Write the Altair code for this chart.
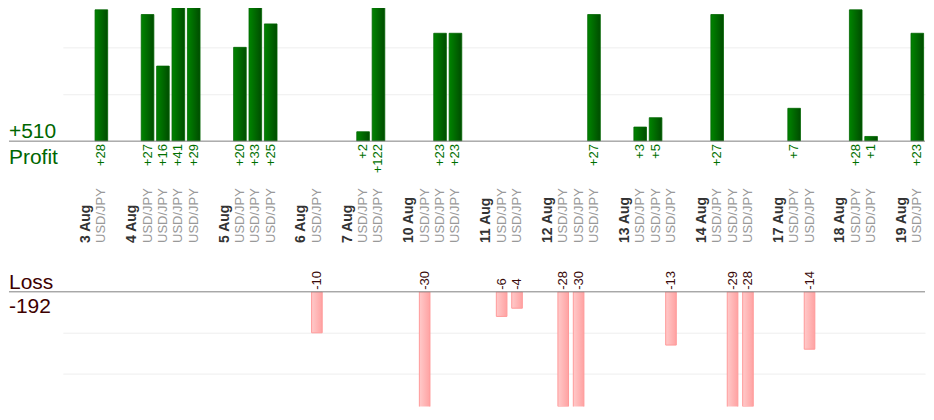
import altair as alt
import pandas as pd

# ---- data ----
days = ["3 Aug", "4 Aug", "5 Aug", "6 Aug", "7 Aug", "10 Aug", "11 Aug",
        "12 Aug", "13 Aug", "14 Aug", "17 Aug", "18 Aug", "19 Aug"]
pair = "USD/JPY"
day_results = [
    [28],
    [27, 16, 41, 29],
    [20, 33, 25],
    [-10],
    [2, 122],
    [-30, 23, 23],
    [-6, -4],
    [-28, -30, 27],
    [3, 5, -13],
    [27, -29, -28],
    [7, -14],
    [28, 1],
    [23],
]
profit_grid = [10, 20, 30]
loss_grid = [10, 20]

# ---- build tables ----
day_rows, trade_rows = [], []
slot = 0
for d, res in zip(days, day_results):
    slot += 1  # empty gap slot before every day
    day_rows.append({"slot": slot, "day": d})
    slot += 1
    for r in res:
        trade_rows.append({"slot": slot, "pair": pair, "result": r})
        slot += 1
n_slots = slot

day_df = pd.DataFrame(day_rows)
trade_df = pd.DataFrame(trade_rows)
profit_df = trade_df[trade_df.result > 0].copy()
profit_df["txt"] = "+" + profit_df.result.astype(str)
loss_df = trade_df[trade_df.result < 0].copy()
loss_df["loss"] = -loss_df.result
loss_df["txt"] = loss_df.result.astype(str)

total_profit = int(profit_df.result.sum())
total_loss = int(loss_df.loss.sum())
profit_lbl = pd.DataFrame({"t": ["+%d" % total_profit, "Profit"], "yy": [138, 164]})
loss_lbl = pd.DataFrame({"t": ["Loss", "-%d" % total_loss], "yy": [-3, 21]})
zero_df = pd.DataFrame({"v": [0]})

FONT = "Liberation Sans"
W = 864
LEFT = -54
xscale = alt.Scale(domain=list(range(n_slots)), paddingInner=0.18, paddingOuter=0.09)
X = alt.X("slot:O", scale=xscale, axis=None)

# ---- profit panel ----
py = alt.Y("result:Q", scale=alt.Scale(domain=[0, 30]),
           axis=alt.Axis(values=profit_grid, grid=True, gridColor="#eeeeee",
                         labels=False, ticks=False, domain=False, title=None))
green = alt.Gradient(gradient="linear", x1=0, x2=1, y1=0, y2=0,
                     stops=[alt.GradientStop(color="#008400", offset=0),
                            alt.GradientStop(color="#004c00", offset=1)])
p_bars = alt.Chart(profit_df).mark_bar(clip=True, color=green, stroke="#006400",
                                       strokeWidth=0.8).encode(x=X, y=py)
p_text = alt.Chart(profit_df).mark_text(angle=270, align="right", baseline="middle",
                                        dx=-3, fontSize=13, font=FONT,
                                        color="#007000").encode(
    x=X, y=alt.datum(0), text="txt:N")
p_rule = alt.Chart(zero_df).mark_rule(color="#808080", strokeWidth=1).encode(
    y=alt.Y("v:Q"), x=alt.value(LEFT), x2=alt.value(W))
p_lbl = alt.Chart(profit_lbl).mark_text(align="left", baseline="alphabetic",
                                         fontSize=21, font=FONT, color="#006600").encode(
    x=alt.value(LEFT), y=alt.Y("yy:Q", scale=None), text="t:N")
profit = alt.layer(p_bars, p_rule, p_text, p_lbl).properties(width=W, height=141)

# ---- middle (labels) panel ----
m_day = alt.Chart(day_df).mark_text(angle=270, align="left", baseline="middle",
                                    fontSize=14, fontWeight="bold", font=FONT,
                                    color="#333333").encode(
    x=X, y=alt.value(102), text="day:N")
m_pair = alt.Chart(trade_df).mark_text(angle=270, align="left", baseline="middle",
                                       fontSize=13, font=FONT, color="#999999").encode(
    x=X, y=alt.value(102), text="pair:N")
middle = alt.layer(m_day, m_pair).properties(width=W, height=151)

# ---- loss panel ----
ly = alt.Y("loss:Q", scale=alt.Scale(domain=[0, 27], reverse=True),
           axis=alt.Axis(values=loss_grid, grid=True, gridColor="#eeeeee",
                         labels=False, ticks=False, domain=False, title=None))
pink = alt.Gradient(gradient="linear", x1=0, x2=1, y1=0, y2=0,
                    stops=[alt.GradientStop(color="#ffcaca", offset=0),
                           alt.GradientStop(color="#ffa2a2", offset=1)])
l_bars = alt.Chart(loss_df).mark_bar(clip=True, color=pink, stroke="#ff9a9a",
                                     strokeWidth=1,
                                     width=alt.RelativeBandSize(0.84)).encode(x=X, y=ly)
l_text = alt.Chart(loss_df).mark_text(angle=270, align="left", baseline="middle",
                                      dx=2, fontSize=13, font=FONT,
                                      color="#3a0a0a").encode(
    x=X, y=alt.datum(0), text="txt:N")
l_rule = alt.Chart(zero_df).mark_rule(color="#808080", strokeWidth=1).encode(
    y=alt.Y("v:Q"), x=alt.value(LEFT), x2=alt.value(W))
l_lbl = alt.Chart(loss_lbl).mark_text(align="left", baseline="alphabetic",
                                       fontSize=21, font=FONT, color="#3d0000").encode(
    x=alt.value(LEFT), y=alt.Y("yy:Q", scale=None), text="t:N")
loss = alt.layer(l_bars, l_rule, l_text, l_lbl).properties(width=W, height=115)

chart = alt.vconcat(profit, middle, loss, spacing=0, bounds="flush").properties(
    padding={"left": 0, "top": -8, "right": 0, "bottom": 0}
).configure_view(strokeWidth=0)

chart.save("out.html", embed_options={"renderer": "svg", "actions": False})
